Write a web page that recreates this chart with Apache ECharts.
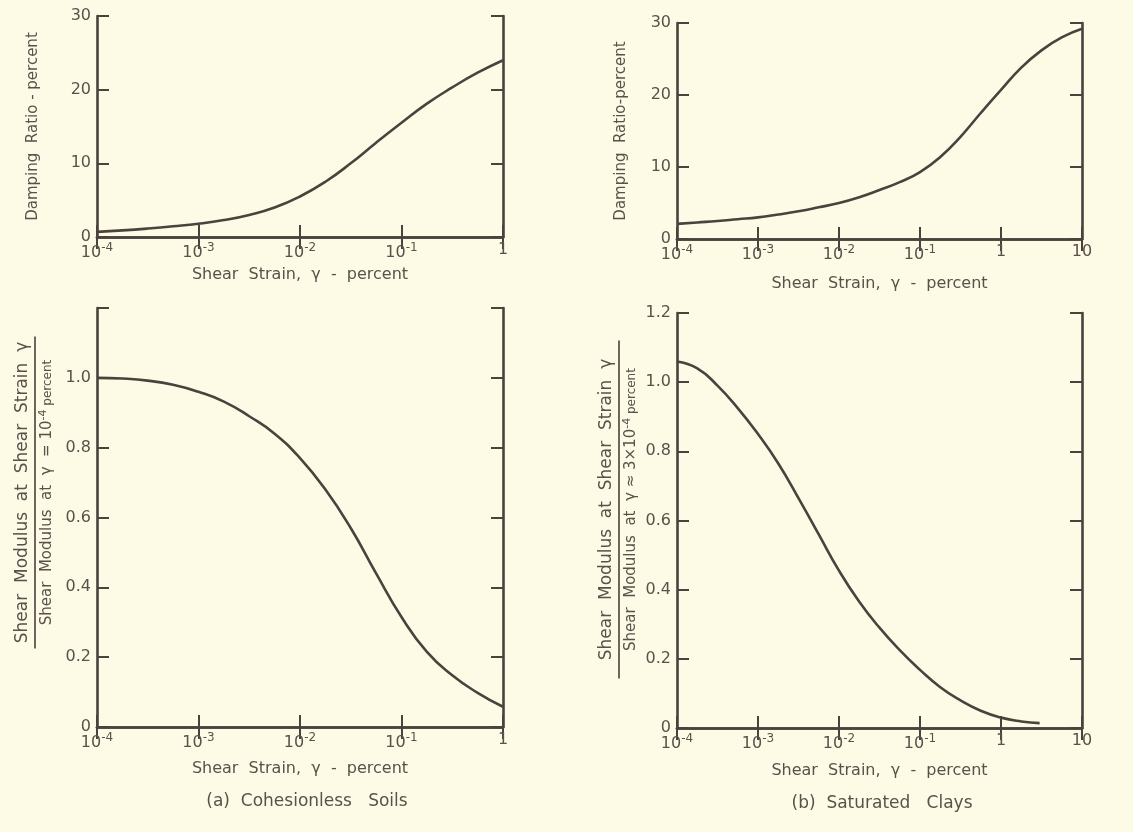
<!DOCTYPE html>
<html>
<head>
<meta charset="utf-8">
<title>Shear modulus and damping vs shear strain</title>
<script src="https://cdn.jsdelivr.net/npm/echarts@6/dist/echarts.min.js"></script>
<style>
  html, body { margin: 0; padding: 0; background: #fdfbe6; }
  #chart { width: 1133px; height: 832px; }
</style>
</head>
<body>
<div id="chart"></div>
<script>
// Shear strain (percent), read at quarter-decade steps
const strainTo1  = [1e-4, 1.78e-4, 3.16e-4, 5.62e-4, 1e-3, 1.78e-3, 3.16e-3, 5.62e-3, 1e-2, 1.78e-2, 3.16e-2, 5.62e-2, 0.1, 0.178, 0.316, 0.562, 1];
const strainTo10 = [1e-4, 1.78e-4, 3.16e-4, 5.62e-4, 1e-3, 1.78e-3, 3.16e-3, 5.62e-3, 1e-2, 1.78e-2, 3.16e-2, 5.62e-2, 0.1, 0.178, 0.316, 0.562, 1, 1.78, 3.16, 5.62, 10];
const strainTo3  = [1e-4, 1.78e-4, 3.16e-4, 5.62e-4, 1e-3, 1.78e-3, 3.16e-3, 5.62e-3, 1e-2, 1.78e-2, 3.16e-2, 5.62e-2, 0.1, 0.178, 0.316, 0.562, 1, 1.78, 3];

// Damping ratio (percent)
const sandDamping = [0.7, 0.9, 1.15, 1.45, 1.8, 2.3, 3.0, 4.0, 5.5, 7.5, 10.0, 12.8, 15.5, 18.1, 20.3, 22.3, 24.0];
const clayDamping = [2.1, 2.3, 2.5, 2.75, 3.0, 3.4, 3.85, 4.4, 5.0, 5.8, 6.8, 7.9, 9.3, 11.4, 14.2, 17.5, 20.7, 23.8, 26.2, 28.0, 29.2];

// Modulus ratio G / G(reference strain)
const sandModulus = [1.0, 0.998, 0.992, 0.98, 0.96, 0.932, 0.89, 0.84, 0.77, 0.68, 0.57, 0.44, 0.315, 0.215, 0.148, 0.098, 0.058];
const clayModulus = [1.06, 1.04, 0.99, 0.925, 0.85, 0.765, 0.665, 0.56, 0.455, 0.365, 0.29, 0.225, 0.168, 0.118, 0.08, 0.05, 0.03, 0.019, 0.014];

// Axis titles and captions
const strainTitleA = 'Shear  Strain,  γ  -  percent';
const strainTitleB = 'Shear  Strain,  γ  -  percent';
const dampTitleA = 'Damping  Ratio - percent';
const dampTitleB = 'Damping  Ratio-percent';
const modNumerator = 'Shear  Modulus  at  Shear  Strain  γ';
const modDenomA = ['Shear  Modulus  at  γ  = 10', '-4', ' percent'];
const modDenomB = ['Shear  Modulus  at  γ ≈ 3×10', '-4', ' percent'];
const captionA = '(a)  Cohesionless   Soils';
const captionB = '(b)  Saturated   Clays';

const ink = '#4a423d';
const textInk = '#5a514b';
const font = 'DejaVu Sans';

function strainLabel(v) {
  const e = Math.round(Math.log10(v));
  if (e === 0) return '1';
  if (e === 1) return '10';
  return '{b|10}{s|' + e + '}';
}

const labelRich = {
  b: { fontSize: 16, fontFamily: font, color: textInk },
  s: { fontSize: 12, fontFamily: font, color: textInk, verticalAlign: 'bottom', padding: [0, 0, 9, 0] }
};

const grids = [
  { left: 97, top: 16, width: 406, height: 221 },
  { left: 677, top: 23, width: 405, height: 216 },
  { left: 97, top: 308, width: 406, height: 419 },
  { left: 677, top: 313, width: 405, height: 415 }
];

const frameLine = { show: true, lineStyle: { color: ink, width: 2.6 } };
const inTick = { show: true, inside: true, length: 12, lineStyle: { color: ink, width: 2 } };

const xMax = [1, 10, 1, 10];
const xNames = [strainTitleA, strainTitleB, strainTitleA, strainTitleB];
const xGaps = [30, 37, 34, 35];

const xAxes = [];
const yAxes = [];
for (let i = 0; i < 4; i++) {
  xAxes.push({
    type: 'log', logBase: 10, gridIndex: i, min: 1e-4, max: xMax[i], position: 'bottom',
    axisLine: frameLine, axisTick: inTick, splitLine: { show: false }, minorTick: { show: false },
    axisLabel: {
      margin: 5, formatter: strainLabel, rich: labelRich,
      fontSize: 16, fontFamily: font, color: textInk
    },
    name: xNames[i], nameLocation: 'middle', nameGap: xGaps[i],
    nameTextStyle: { fontSize: 16, fontFamily: font, color: textInk }
  });
  xAxes.push({
    type: 'log', logBase: 10, gridIndex: i, min: 1e-4, max: xMax[i], position: 'top',
    axisLine: frameLine, axisTick: inTick, splitLine: { show: false },
    axisLabel: { show: false }
  });
}

// damping panels
const dampY = (i, name, gap) => ({
  type: 'value', gridIndex: i, min: 0, max: 30, interval: 10, position: 'left',
  axisLine: frameLine, axisTick: inTick, splitLine: { show: false },
  axisLabel: { margin: 6, fontSize: 16, fontFamily: font, color: textInk },
  name: name, nameLocation: 'middle', nameGap: gap, nameRotate: 90,
  nameTextStyle: { fontSize: 15, fontFamily: font, color: textInk }
});

// modulus-ratio panels: fraction title (numerator, bar, denominator)
const modY = (i, denom, gap, barW, shift, hideTop) => ({
  type: 'value', gridIndex: i, min: 0, max: 1.2, interval: 0.2, position: 'left',
  axisLine: frameLine, axisTick: inTick, splitLine: { show: false },
  axisLabel: {
    margin: 6, fontSize: 16, fontFamily: font, color: textInk,
    formatter: v => (v === 0 ? '0' : (hideTop && v > 1.15 ? '' : v.toFixed(1)))
  },
  name: '{n|' + modNumerator + '}\n{bar|}\n{d|' + denom[0] + '}{sup|' + denom[1] + '}{p|' + denom[2] + '}',
  nameLocation: 'middle', nameGap: gap, nameRotate: 90,
  nameTextStyle: {
    padding: [0, 0, 0, shift],
    rich: {
      n: { fontSize: 17, fontFamily: font, color: textInk, lineHeight: 18 },
      bar: { width: barW, height: 1.6, backgroundColor: ink, lineHeight: 6 },
      d: { fontSize: 15, fontFamily: font, color: textInk, lineHeight: 18 },
      sup: { fontSize: 11, fontFamily: font, color: textInk, verticalAlign: 'bottom', padding: [0, 0, 8, 0] },
      p: { fontSize: 12, fontFamily: font, color: textInk, lineHeight: 18 }
    }
  }
});

yAxes.push(dampY(0, dampTitleA, 56));
yAxes.push(dampY(1, dampTitleB, 48));
yAxes.push(modY(2, modDenomA, 40, 312, 50, true));
yAxes.push(modY(3, modDenomB, 36, 338, 22, false));
for (let i = 0; i < 4; i++) {
  yAxes.push({
    type: 'value', gridIndex: i, min: 0, max: i < 2 ? 30 : 1.2, interval: i < 2 ? 10 : 0.2,
    position: 'right', axisLine: frameLine, axisTick: inTick,
    splitLine: { show: false }, axisLabel: { show: false }
  });
}

function curve(xIdx, yIdx, xs, ys) {
  return {
    type: 'line', xAxisIndex: xIdx, yAxisIndex: yIdx,
    data: xs.map((x, k) => [x, ys[k]]),
    smooth: 0.5, showSymbol: false, symbol: 'none',
    lineStyle: { color: ink, width: 2.6 }
  };
}

const chart = echarts.init(document.getElementById('chart'), null, { renderer: 'canvas' });
chart.setOption({
  backgroundColor: '#fdfbe6',
  animation: false,
  grid: grids,
  xAxis: xAxes,
  yAxis: yAxes,
  title: [
    { text: captionA, left: 302, top: 788, textAlign: 'center',
      textStyle: { fontSize: 17, fontWeight: 'normal', fontFamily: font, color: textInk } },
    { text: captionB, left: 877, top: 790, textAlign: 'center',
      textStyle: { fontSize: 17, fontWeight: 'normal', fontFamily: font, color: textInk } }
  ],
  series: [
    curve(0, 0, strainTo1, sandDamping),
    curve(2, 1, strainTo10, clayDamping),
    curve(4, 2, strainTo1, sandModulus),
    curve(6, 3, strainTo3, clayModulus)
  ]
});
</script>
</body>
</html>
